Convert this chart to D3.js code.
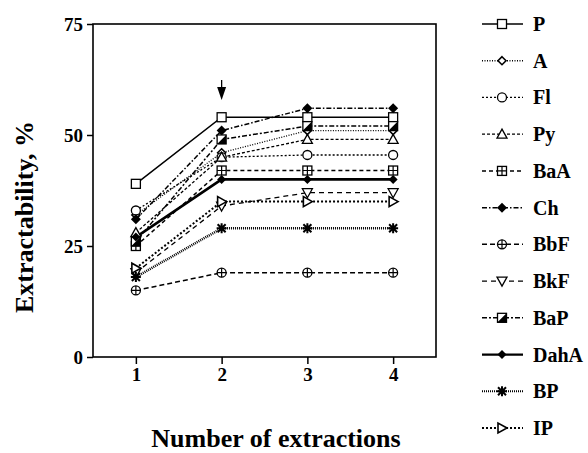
<!DOCTYPE html>
<html><head><meta charset="utf-8">
<script src="https://cdn.jsdelivr.net/npm/d3@7"></script>
<style>body{margin:0;background:#fff}svg{display:block}</style>
</head><body><svg id="c" width="588" height="453"></svg>
<script>
const extractions = [1, 2, 3, 4];
const seriesNames = ["P","A","Fl","Py","BaA","Ch","BbF","BkF","BaP","DahA","BP","IP"];
const P    = [39, 54, 54, 54];
const A    = [32, 46, 51, 51];
const Fl   = [33, 45, 45.5, 45.5];
const Py   = [28, 45, 49, 49];
const BaA  = [25, 42, 42, 42];
const Ch   = [31, 51, 56, 56];
const BbF  = [15, 19, 19, 19];
const BkF  = [19, 34, 37, 37];
const BaP  = [26, 49, 52, 52];
const DahA = [27, 40, 40, 40];
const BP   = [18, 29, 29, 29];
const IP   = [20, 35, 35, 35];
const yTicks = [0, 25, 50, 75];
const values = {P, A, Fl, Py, BaA, Ch, BbF, BkF, BaP, DahA, BP, IP};

const styles = {
  P:    {dash:null, w:1.5, m:"square"},
  A:    {dash:"1,1.5", w:1.3, m:"diamondOpen"},
  Fl:   {dash:"2,2", w:1.3, m:"circle"},
  Py:   {dash:"3,2", w:1.3, m:"triUp"},
  BaA:  {dash:"4,3", w:1.5, m:"squareGrid"},
  Ch:   {dash:"5,2,1.5,2", w:1.5, m:"diamondFill"},
  BbF:  {dash:"5,3", w:1.5, m:"circleCross"},
  BkF:  {dash:"5,4", w:1.3, m:"triDown"},
  BaP:  {dash:"5,2,2,2", w:1.5, m:"squareHalf"},
  DahA: {dash:null, w:2.6, m:"diamondFillS"},
  BP:   {dash:"1,1", w:2.6, m:"star"},
  IP:   {dash:"2,2", w:2, m:"triRight"}
};

const svg = d3.select("#c");
const L = 93, R = 436, T = 24, B = 357;
const x = d3.scaleLinear().domain([0.5, 4.5]).range([L, R]);
const y = d3.scaleLinear().domain([0, 75]).range([B, T]);
const font = "'Liberation Serif','Times New Roman',serif";

function marker(g, type, cx, cy) {
  const s = g.append("g").attr("transform", `translate(${cx},${cy})`);
  const sw = 1.3;
  switch (type) {
    case "square": s.append("rect").attr("x",-4.5).attr("y",-4.5).attr("width",9).attr("height",9).attr("fill","#fff").attr("stroke","#000").attr("stroke-width",sw); break;
    case "diamondOpen": s.append("path").attr("d","M0,-4L4,0L0,4L-4,0Z").attr("fill","#fff").attr("stroke","#000").attr("stroke-width",1.6); break;
    case "circle": s.append("circle").attr("r",4.5).attr("fill","#fff").attr("stroke","#000").attr("stroke-width",sw); break;
    case "triUp": s.append("path").attr("d","M0,-5L5,4L-5,4Z").attr("fill","#fff").attr("stroke","#000").attr("stroke-width",sw); break;
    case "squareGrid":
      s.append("rect").attr("x",-4.5).attr("y",-4.5).attr("width",9).attr("height",9).attr("fill","#fff").attr("stroke","#000").attr("stroke-width",sw);
      s.append("path").attr("d","M0,-4.5V4.5M-4.5,0H4.5").attr("stroke","#000").attr("stroke-width",1.2); break;
    case "diamondFill": s.append("path").attr("d","M0,-5L5,0L0,5L-5,0Z").attr("fill","#000"); break;
    case "circleCross":
      s.append("circle").attr("r",4.5).attr("fill","#fff").attr("stroke","#000").attr("stroke-width",sw);
      s.append("path").attr("d","M0,-4.5V4.5M-4.5,0H4.5").attr("stroke","#000").attr("stroke-width",1.2); break;
    case "triDown": s.append("path").attr("d","M0,5L5,-4L-5,-4Z").attr("fill","#fff").attr("stroke","#000").attr("stroke-width",sw); break;
    case "squareHalf":
      s.append("rect").attr("x",-4.5).attr("y",-4.5).attr("width",9).attr("height",9).attr("fill","#fff").attr("stroke","#000").attr("stroke-width",sw);
      s.append("path").attr("d","M-4.5,4.5L4.5,-4.5L4.5,4.5Z").attr("fill","#000"); break;
    case "diamondFillS": s.append("path").attr("d","M0,-4.5L4.5,0L0,4.5L-4.5,0Z").attr("fill","#000"); break;
    case "star":
      s.append("path").attr("d","M-4,-4L4,4M-4,4L4,-4M0,-5V5M-5,0H5").attr("stroke","#000").attr("stroke-width",2); break;
    case "triRight": s.append("path").attr("d","M5,0L-4,-5L-4,5Z").attr("fill","#fff").attr("stroke","#000").attr("stroke-width",1.6); break;
  }
}

// frame
svg.append("rect").attr("x",L).attr("y",T).attr("width",R-L).attr("height",B-T)
  .attr("fill","none").attr("stroke","#000").attr("stroke-width",1.6);

// axes
const yAxis = svg.append("g").attr("transform",`translate(${L},0)`)
  .call(d3.axisLeft(y).tickValues(yTicks).tickSize(6).tickPadding(4));
const xAxis = svg.append("g").attr("transform",`translate(0,${B})`)
  .call(d3.axisBottom(x).tickValues(extractions).tickSize(7).tickPadding(4).tickFormat(d3.format("d")));
[yAxis, xAxis].forEach(a => {
  a.attr("font-family",font);
  a.select(".domain").remove();
  a.selectAll("line").attr("stroke","#000").attr("stroke-width",1.5);
  a.selectAll("text").attr("font-family",font).attr("font-weight","bold").attr("font-size",19).attr("fill","#000");
});

// axis titles
svg.append("text").attr("transform","translate(33,217) rotate(-90)").attr("text-anchor","middle")
  .attr("font-family",font).attr("font-weight","bold").attr("font-size",26).text("Extractability, %");
svg.append("text").attr("x",276).attr("y",447).attr("text-anchor","middle")
  .attr("font-family",font).attr("font-weight","bold").attr("font-size",26).text("Number of extractions");

// series
const line = d3.line().x((d,i)=>x(extractions[i])).y(d=>y(d));
const plot = svg.append("g");
seriesNames.forEach(n => {
  const st = styles[n];
  plot.append("path").datum(values[n]).attr("d",line).attr("fill","none")
    .attr("stroke","#000").attr("stroke-width",st.w).attr("stroke-dasharray",st.dash);
});
seriesNames.forEach(n => {
  values[n].forEach((v,i) => marker(plot, styles[n].m, x(extractions[i]), y(v)));
});

// arrow at extraction 2
const ax = x(2);
svg.append("line").attr("x1",ax).attr("x2",ax).attr("y1",80).attr("y2",90).attr("stroke","#000").attr("stroke-width",1.3);
svg.append("path").attr("d",`M${ax-4.5},87L${ax+4.5},87L${ax},100Z`).attr("fill","#000");

// legend
const lg = svg.append("g");
const rowY = d3.scaleLinear().domain([0, seriesNames.length-1]).range([24, 428]);
seriesNames.forEach((n,i) => {
  const st = styles[n], yy = rowY(i);
  lg.append("line").attr("x1",482).attr("x2",523).attr("y1",yy).attr("y2",yy)
    .attr("stroke","#000").attr("stroke-width",Math.min(st.w,2.2)).attr("stroke-dasharray",st.dash);
  marker(lg, st.m, 502, yy);
  lg.append("text").attr("x",533).attr("y",yy+7).attr("font-family",font).attr("font-weight","bold")
    .attr("font-size",20).text(n);
});
</script></body></html>
